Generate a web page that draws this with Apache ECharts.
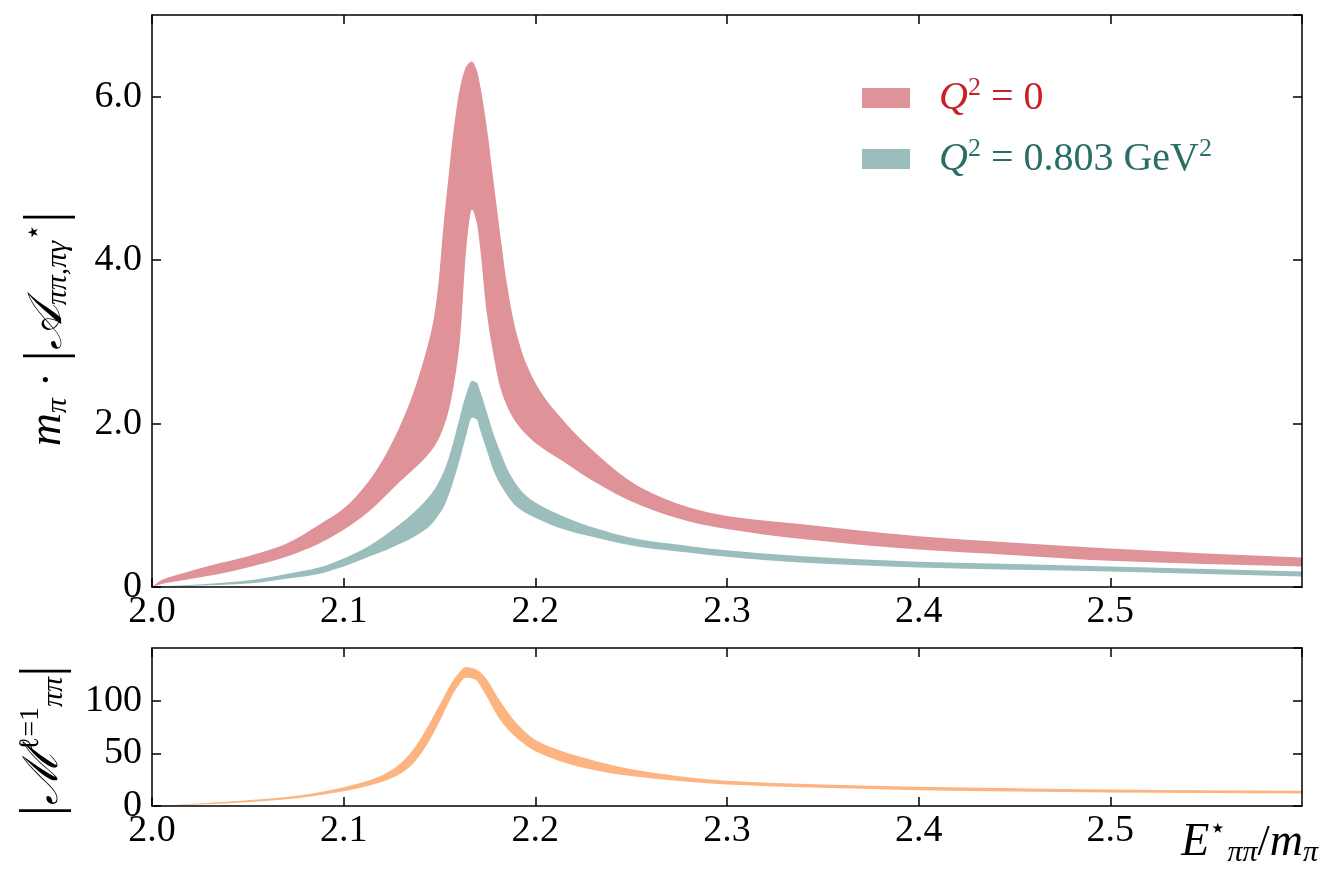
<!DOCTYPE html>
<html lang="en">
<head>
  <meta charset="UTF-8">
  <title>pi pi -> pi gamma* amplitude</title>
  <script src="https://cdn.jsdelivr.net/npm/echarts@6/dist/echarts.min.js"></script>
  <style>
    * { margin: 0; padding: 0; }
    html, body { width: 100%; height: 100%; background: #fff; }
    #chart { width: 1336px; height: 894px; }
  </style>
</head>
<body>
<div id="chart"></div>
<script>
  // E*/m_pi grid for the two amplitude bands
  var energies = [2.000, 2.005, 2.017, 2.035, 2.052, 2.070, 2.087, 2.100, 2.113, 2.122,
    2.1294, 2.1364, 2.1425, 2.147, 2.1495, 2.152, 2.1547, 2.1573, 2.1608, 2.1642,
    2.1669, 2.1695, 2.1712, 2.1747, 2.1781, 2.1816, 2.1851, 2.1894, 2.1955, 2.2025,
    2.213, 2.2286, 2.2547, 2.2808, 2.300, 2.338, 2.400, 2.450, 2.500, 2.550, 2.600];

  // Q^2 = 0 band
  var q0High = [0.00, 0.086, 0.175, 0.29, 0.39, 0.53, 0.76, 0.96, 1.29, 1.62,
    1.97, 2.38, 2.84, 3.28, 3.72, 4.40, 5.02, 5.58, 6.12, 6.38,
    6.43, 6.32, 6.14, 5.62, 4.98, 4.33, 3.72, 3.18, 2.72, 2.40,
    2.08, 1.70, 1.22, 0.97, 0.87, 0.77, 0.62, 0.54, 0.47, 0.41, 0.36];
  var q0Low = [0.00, 0.037, 0.086, 0.16, 0.25, 0.37, 0.53, 0.70, 0.92, 1.12,
    1.29, 1.44, 1.58, 1.71, 1.81, 1.95, 2.15, 2.45, 3.05, 4.20,
    4.62, 4.45, 4.15, 3.35, 2.85, 2.45, 2.22, 2.03, 1.86, 1.72,
    1.56, 1.32, 1.00, 0.80, 0.71, 0.59, 0.46, 0.39, 0.32, 0.28, 0.25];

  // Q^2 = 0.803 GeV^2 band
  var q803High = [0.00, 0.01, 0.02, 0.05, 0.086, 0.16, 0.24, 0.35, 0.50, 0.64,
    0.77, 0.91, 1.05, 1.18, 1.28, 1.40, 1.57, 1.78, 2.10, 2.38,
    2.52, 2.50, 2.40, 2.14, 1.88, 1.66, 1.46, 1.28, 1.11, 1.00,
    0.88, 0.74, 0.58, 0.50, 0.45, 0.38, 0.31, 0.28, 0.25, 0.22, 0.19];
  var q803Low = [0.00, 0.005, 0.012, 0.025, 0.045, 0.10, 0.16, 0.25, 0.37, 0.45,
    0.53, 0.61, 0.70, 0.80, 0.88, 0.97, 1.12, 1.30, 1.58, 1.88,
    2.07, 2.05, 1.92, 1.67, 1.43, 1.26, 1.13, 1.00, 0.90, 0.82,
    0.72, 0.62, 0.49, 0.42, 0.37, 0.30, 0.24, 0.21, 0.19, 0.16, 0.13];

  // |M_pipi^{l=1}| band (lower panel)
  var mEnergies = [2.000, 2.008, 2.034, 2.069, 2.100, 2.121, 2.130, 2.138, 2.144, 2.150,
    2.159, 2.164, 2.1686, 2.173, 2.1816, 2.190, 2.200, 2.225, 2.250, 2.300,
    2.350, 2.400, 2.450, 2.500, 2.550, 2.600];
  var mHigh = [0, 0.6, 3.6, 8.4, 17.9, 30, 41, 58, 76, 96,
    124, 132, 130, 124, 100, 79, 63, 46, 35, 24,
    20.5, 18.3, 16.8, 15.7, 15, 14.4];
  var mLow = [0, 0.3, 2.1, 6.2, 14.1, 23.6, 31, 44, 60, 80,
    112, 122, 120, 109, 82, 65, 52, 36.4, 28.4, 20.5,
    17.3, 15, 13.8, 12.9, 12.3, 11.9];

  var xTicks = [2.0, 2.6, 0.1];
  var ampTicks = [0, 7, 2];
  var mTicks = [0, 150, 50];

  var FONT = 'Liberation Serif';
  var RED = '#df9297', GREEN = '#9bbebd', ORANGE = '#fcb480';

  // monotone (pchip) bezier control points through pixel points p
  function bezierSegs(p) {
    var n = p.length, d = [], h = [], m = [];
    for (var i = 0; i < n - 1; i++) {
      h[i] = p[i + 1][0] - p[i][0];
      d[i] = (p[i + 1][1] - p[i][1]) / h[i];
    }
    m[0] = d[0]; m[n - 1] = d[n - 2];
    for (var k = 1; k < n - 1; k++) {
      if (d[k - 1] * d[k] <= 0) { m[k] = 0; continue; }
      var w1 = 2 * h[k] + h[k - 1], w2 = h[k] + 2 * h[k - 1];
      m[k] = (w1 + w2) / (w1 / d[k - 1] + w2 / d[k]);
    }
    var segs = [];
    for (var s = 0; s < n - 1; s++) {
      var t = h[s] / 3;
      segs.push([[p[s][0] + t, p[s][1] + m[s] * t], [p[s + 1][0] - t, p[s + 1][1] - m[s + 1] * t]]);
    }
    return segs;
  }

  function pt(a) { return a[0].toFixed(2) + ' ' + a[1].toFixed(2); }

  // shaded band between lo and hi, drawn as one closed path through the axis scales
  function band(name, xs, lo, hi, color, axisIdx) {
    return {
      name: name,
      type: 'custom',
      xAxisIndex: axisIdx, yAxisIndex: axisIdx,
      itemStyle: { color: color },
      silent: true,
      data: xs.map(function (x, i) { return [x, lo[i], hi[i]]; }),
      encode: { x: 0, y: [1, 2] },
      renderItem: function (params, api) {
        if (params.dataIndex !== 0) return;
        var up = xs.map(function (x, i) { return api.coord([x, hi[i]]); });
        var dn = xs.map(function (x, i) { return api.coord([x, lo[i]]); });
        var su = bezierSegs(up), sd = bezierSegs(dn);
        var path = 'M ' + pt(up[0]);
        for (var i = 0; i < su.length; i++) {
          path += ' C ' + pt(su[i][0]) + ' ' + pt(su[i][1]) + ' ' + pt(up[i + 1]);
        }
        path += ' L ' + pt(dn[dn.length - 1]);
        for (var j = sd.length - 1; j >= 0; j--) {
          path += ' C ' + pt(sd[j][1]) + ' ' + pt(sd[j][0]) + ' ' + pt(dn[j]);
        }
        path += ' Z';
        var cs = params.coordSys;
        return {
          type: 'path',
          shape: { pathData: path },
          style: { fill: color, stroke: null },
          clipPath: { type: 'rect', shape: { x: cs.x, y: cs.y, width: cs.width, height: cs.height } }
        };
      }
    };
  }

  var labelStyle = { fontFamily: FONT, fontSize: 38, color: '#000' };
  var lineStyle = { color: '#000', width: 1.5 };

  function xAxis(grid, pos, showLabels) {
    return {
      type: 'value', gridIndex: grid, position: pos, z: 10,
      min: xTicks[0], max: xTicks[1], interval: xTicks[2],
      axisLine: { show: true, onZero: false, lineStyle: lineStyle },
      axisTick: { show: true, inside: true, length: 9, lineStyle: lineStyle },
      axisLabel: Object.assign({ show: showLabels, margin: 6, showMaxLabel: false,
        formatter: function (v) { return v.toFixed(1); } }, labelStyle),
      splitLine: { show: false }
    };
  }

  function yAxis(grid, pos, ticks, fmt, extra) {
    return Object.assign({
      type: 'value', gridIndex: grid, position: pos, z: 10,
      min: ticks[0], max: ticks[1], interval: ticks[2],
      axisLine: { show: true, onZero: false, lineStyle: lineStyle },
      axisTick: { show: true, inside: true, length: 9, lineStyle: lineStyle },
      axisLabel: Object.assign({ show: !!fmt, margin: 10, showMaxLabel: false, formatter: fmt }, labelStyle),
      splitLine: { show: false }
    }, extra || {});
  }

  var rich = {
    n: { fontFamily: FONT, fontSize: 44 },
    bar: { fontFamily: FONT, fontSize: 56 },
    it: { fontFamily: FONT, fontSize: 46, fontStyle: 'italic' },
    sc: { fontFamily: FONT, fontSize: 48, fontStyle: 'italic' },
    sub: { fontFamily: FONT, fontSize: 30, fontStyle: 'italic', padding: [20, 0, 0, 0] },
    sup: { fontFamily: FONT, fontSize: 28, padding: [0, 0, 26, 0] }
  };

  var chart = echarts.init(document.getElementById('chart'));
  var option = {
    animation: false,
    backgroundColor: '#fff',
    grid: [
      { left: 152, top: 15, width: 1150, height: 572, outerBoundsMode: 'none' },
      { left: 152, top: 648, width: 1150, height: 158, outerBoundsMode: 'none' }
    ],
    legend: {
      orient: 'vertical', left: 862, top: 75, itemGap: 18, padding: 0,
      icon: 'rect', itemWidth: 48, itemHeight: 20,
      itemStyle: { borderWidth: 0 },
      data: [
        { name: 'q0', textStyle: { color: '#c81f2b' } },
        { name: 'q803', textStyle: { color: '#2a6d69' } }
      ],
      textStyle: { fontFamily: FONT, fontSize: 40, padding: [0, 0, 0, 24], rich: {
        it: { fontFamily: FONT, fontSize: 40, fontStyle: 'italic' },
        n: { fontFamily: FONT, fontSize: 40 },
        sup: { fontFamily: FONT, fontSize: 26, padding: [0, 0, 20, 0] }
      } },
      formatter: function (name) {
        return name === 'q0' ? '{it|Q}{sup|2}{n| = 0}' : '{it|Q}{sup|2}{n| = 0.803 GeV}{sup|2}';
      }
    },
    xAxis: [
      xAxis(0, 'bottom', true),
      xAxis(0, 'top', false),
      Object.assign(xAxis(1, 'bottom', true), {
        name: '{it|E}{sup|⋆}{sub|ππ}{n|/}{it|m}{sub|π}',
        nameLocation: 'end', nameGap: 16,
        nameTextStyle: { align: 'right', verticalAlign: 'top', padding: [10, 0, 0, 0], color: '#000', rich: rich }
      }),
      xAxis(1, 'top', false)
    ],
    yAxis: [
      yAxis(0, 'left', ampTicks, function (v) { return v === 0 ? '0' : (v % 2 === 0 ? v.toFixed(1) : ''); }, {
        name: '{it|m}{sub|π}{n| · }{bar||}{sc|𝒜}{sub|ππ,πγ}{sup|⋆}{bar||}',
        nameLocation: 'middle', nameRotate: 90, nameGap: 76,
        nameTextStyle: { color: '#000', padding: [0, 56, 0, 0], rich: rich }
      }),
      yAxis(0, 'right', ampTicks, null),
      yAxis(1, 'left', mTicks, function (v) { return v % 50 === 0 ? String(v) : ''; }, {
        name: '{bar||}{sc|ℳ}{sup|ℓ=1}{sub|ππ}{bar||}',
        nameLocation: 'middle', nameRotate: 90, nameGap: 80,
        nameTextStyle: { color: '#000', padding: [0, 28, 0, 0], rich: rich }
      }),
      yAxis(1, 'right', mTicks, null)
    ],
    series: [
      band('q0', energies, q0Low, q0High, RED, 0),
      band('q803', energies, q803Low, q803High, GREEN, 0),
      band('m', mEnergies, mLow, mHigh, ORANGE, 2)
    ]
  };
  chart.setOption(option);
</script>
</body>
</html>
